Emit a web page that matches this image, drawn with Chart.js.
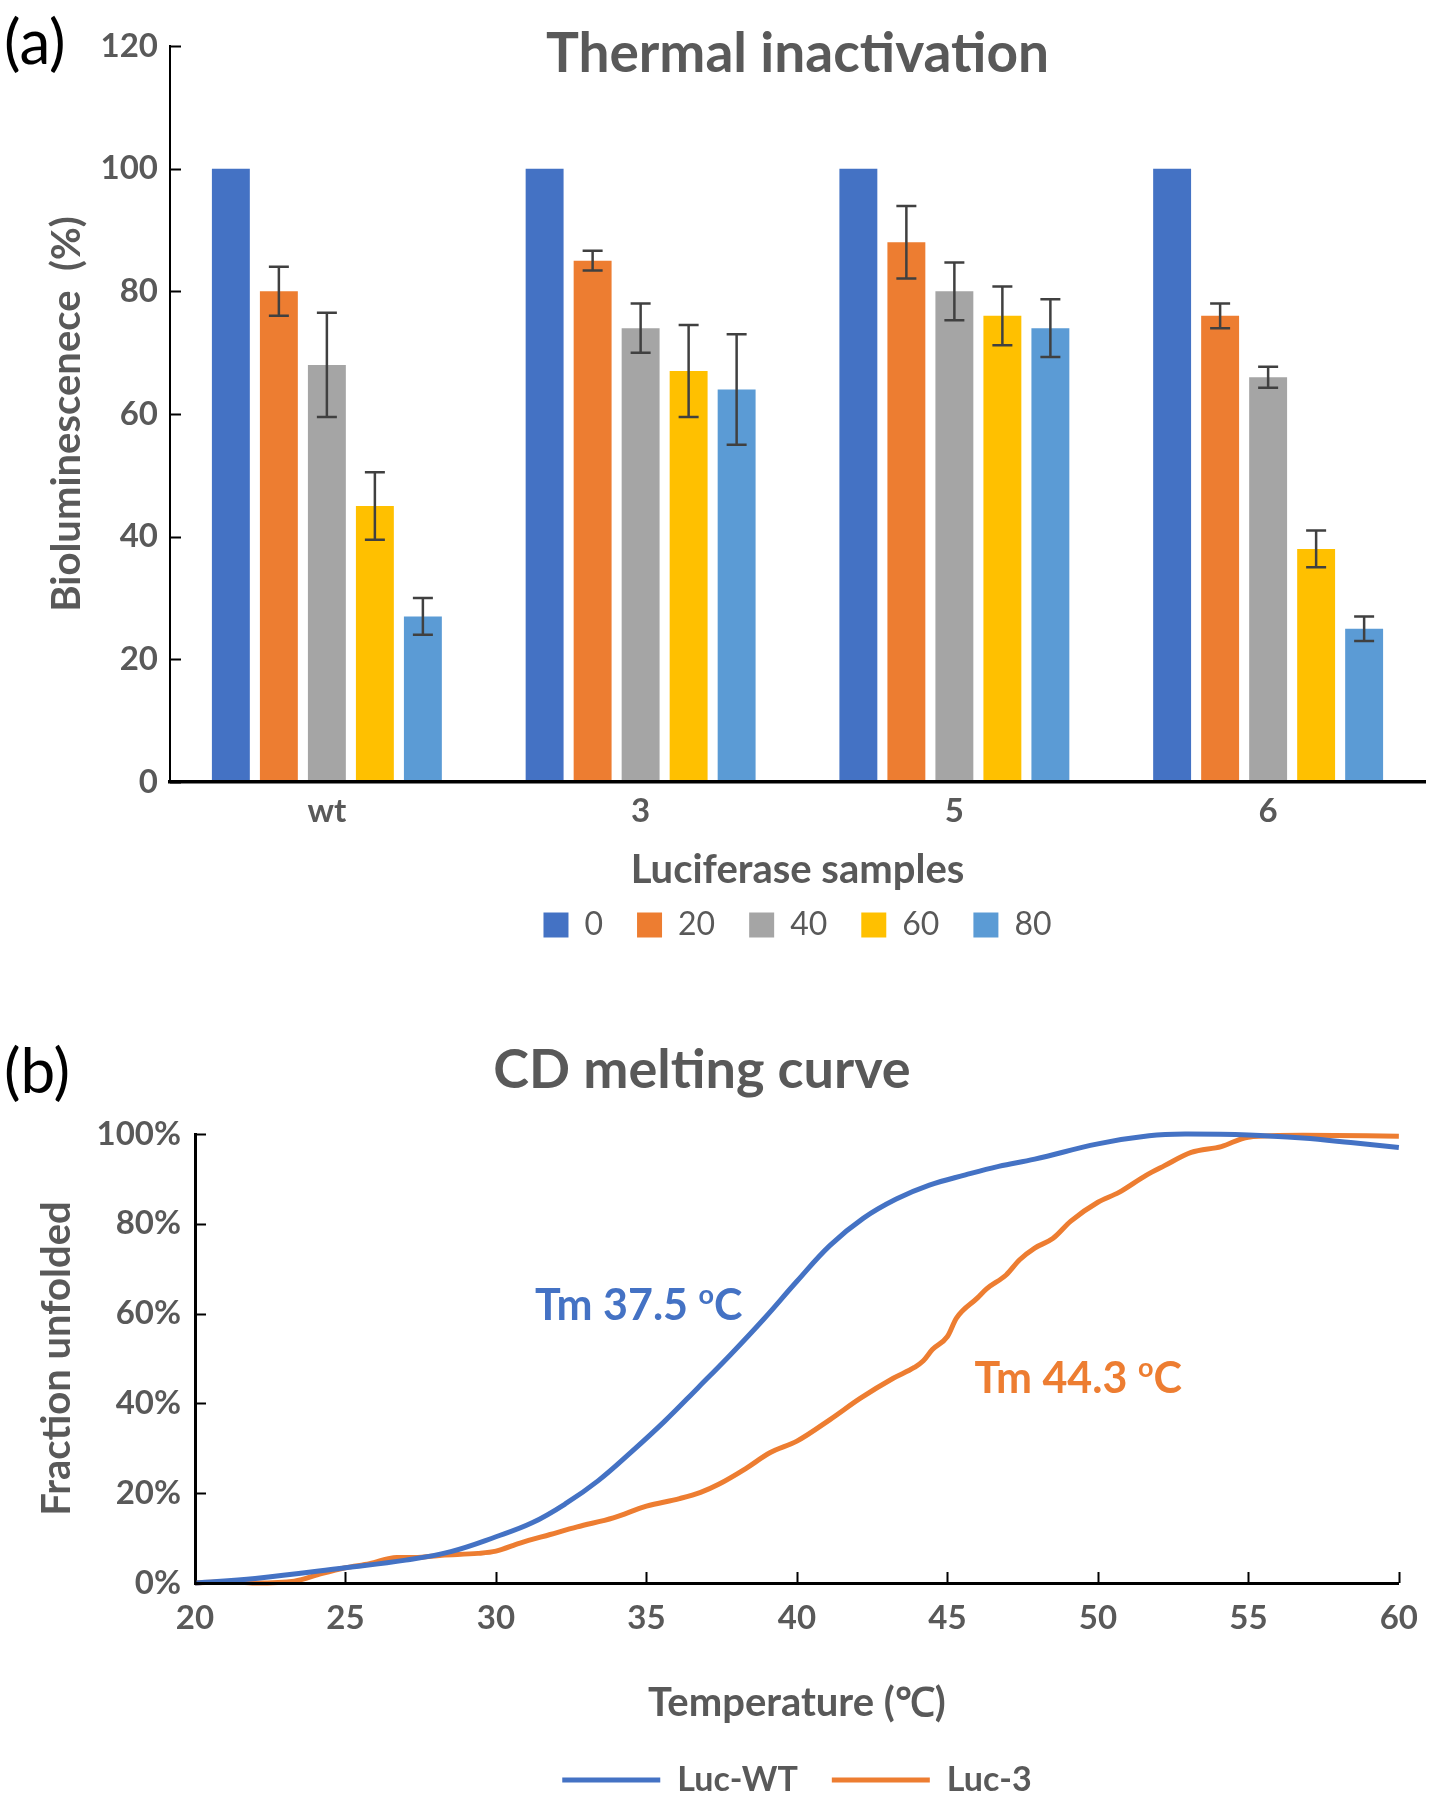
<!DOCTYPE html>
<html>
<head>
<meta charset="utf-8">
<script src="https://cdn.jsdelivr.net/npm/chart.js@4.4.0/dist/chart.umd.min.js"></script>
<style>
  body { margin: 0; background: #fff; width: 1434px; height: 1800px; position: relative; overflow: hidden; font-family: Lato, sans-serif; }
  .panel_tag { position: absolute; left: 4px; font-size: 62px; line-height: 1; color: #000; }
  #chartA { position: absolute; left: 0; top: 0; }
  #chartB { position: absolute; left: 0; top: 1000px; }
</style>
</head>
<body>
<div class="panel_tag" style="top:9px">(a)</div>
<div class="panel_tag" style="top:1038px">(b)</div>
<canvas id="chartA" width="1434" height="960" style="width:1434px;height:960px"></canvas>
<canvas id="chartB" width="1434" height="807" style="width:1434px;height:807px"></canvas>
<script>
// (a) thermal inactivation
const samples = ['wt', '3', '5', '6'];
const heatLabels = ['0', '20', '40', '60', '80'];
const bio0 = [100, 100, 100, 100];
const bio20 = [80, 85, 88, 76];
const bio40 = [68, 74, 80, 66];
const bio60 = [45, 67, 76, 38];
const bio80 = [27, 64, 74, 25];
const err0 = [0, 0, 0, 0];
const err20 = [4, 1.6, 5.9, 2];
const err40 = [8.5, 4, 4.7, 1.7];
const err60 = [5.5, 7.5, 4.8, 3];
const err80 = [3, 9, 4.7, 2];
const bioTicks = [0, 20, 40, 60, 80, 100, 120];

// (b) CD melting curve
const tempWT = [20, 22, 25, 27, 28.5, 30, 31.2, 32.3, 33.4, 34.5, 35.6, 36.7, 37.8, 38.9, 40, 41.1, 42.2, 43.3, 44.4, 45.6, 46.7, 47.9, 50, 51.7, 53, 55, 56.8, 58.4, 60];
const fracWT = [0, 1.0, 3.4, 5.1, 7.0, 10.3, 13.4, 17.6, 22.8, 29.2, 36, 43.4, 50.9, 58.8, 67.2, 75.2, 81.2, 85.5, 88.6, 90.9, 92.8, 94.4, 97.8, 99.6, 100, 99.8, 99.1, 98.1, 97];
const tempL3 = [20, 21, 22, 23.3, 24.2, 25, 25.8, 26.7, 27.3, 28.2, 29.4, 30, 30.8, 31.8, 32.7, 33.9, 35, 36.1, 36.8, 37.4, 38.3, 39.1, 40, 41.1, 42.1, 43.2, 43.9, 44.2, 44.5, 45, 45.3, 46, 46.3, 46.95, 47.4, 47.9, 48.5, 49.1, 50, 50.7, 51.6, 52.2, 53.1, 54.1, 55, 56.8, 60];
const fracL3 = [0, 0.3, 0, 0.4, 2.1, 3.4, 4.3, 5.7, 5.7, 6.2, 6.6, 7.1, 8.9, 10.8, 12.5, 14.5, 17.1, 18.8, 20.2, 22, 25.5, 29, 31.6, 36.4, 41.1, 45.6, 48, 49.5, 52, 54.9, 59, 63.5, 65.5, 68.6, 72, 74.6, 76.7, 80.6, 84.8, 87, 90.8, 92.9, 95.9, 97.2, 99.3, 99.7, 99.5];
const fracTicks = [0, 20, 40, 60, 80, 100];
const tempTicks = [20, 25, 30, 35, 40, 45, 50, 55, 60];

// Tm notes, in data units (left edge of text, middle height)
const tmText = ['Tm 37.5 ', 'Tm 44.3 '];
const tmTemp = [31.3, 45.9];
const tmFrac = [61.9, 45.7];

const grey = '#595959';
Chart.defaults.font.family = 'Lato';
Chart.defaults.color = grey;

// ticks pointing into the plot, like the excel original
const insideTicks = {
    id: 'insideTicks',
    afterDraw(chart, args, opts) {
        const ctx = chart.ctx;
        const area = chart.chartArea;
        ctx.save();
        ctx.strokeStyle = '#000';
        ctx.lineWidth = 2;
        if (opts.y) {
            const ys = chart.scales.y;
            ys.ticks.forEach(t => {
                const py = Math.round(ys.getPixelForValue(t.value)) + 0.5;
                ctx.beginPath();
                ctx.moveTo(area.left, py);
                ctx.lineTo(area.left + 11, py);
                ctx.stroke();
            });
        }
        if (opts.x) {
            const xs = chart.scales.x;
            xs.ticks.forEach(t => {
                const px = Math.round(xs.getPixelForValue(t.value)) + 0.5;
                ctx.beginPath();
                ctx.moveTo(px, area.bottom);
                ctx.lineTo(px, area.bottom - 11);
                ctx.stroke();
            });
        }
        ctx.restore();
    }
};

const errorBars = {
    id: 'errorBars',
    afterDatasetsDraw(chart) {
        const ctx = chart.ctx;
        const ys = chart.scales.y;
        ctx.save();
        ctx.strokeStyle = '#404040';
        ctx.lineWidth = 2.5;
        chart.data.datasets.forEach((ds, i) => {
            const meta = chart.getDatasetMeta(i);
            meta.data.forEach((bar, j) => {
                const err = ds.errors[j];
                if (!err) return;
                const top = ys.getPixelForValue(ds.data[j] + err);
                const bot = ys.getPixelForValue(ds.data[j] - err);
                ctx.beginPath();
                ctx.moveTo(bar.x, top);
                ctx.lineTo(bar.x, bot);
                ctx.moveTo(bar.x - 10, top);
                ctx.lineTo(bar.x + 10, top);
                ctx.moveTo(bar.x - 10, bot);
                ctx.lineTo(bar.x + 10, bot);
                ctx.stroke();
            });
        });
        ctx.restore();
    }
};

const tmNotes = {
    id: 'tmNotes',
    afterDatasetsDraw(chart) {
        const ctx = chart.ctx;
        const colors = ['#4472C4', '#ED7D31'];
        ctx.save();
        ctx.textBaseline = 'alphabetic';
        tmText.forEach((txt, i) => {
            let px = chart.scales.x.getPixelForValue(tmTemp[i]);
            const py = chart.scales.y.getPixelForValue(tmFrac[i]);
            ctx.fillStyle = colors[i];
            ctx.font = 'bold 43px Lato';
            ctx.fillText(txt, px, py + 15);
            px += ctx.measureText(txt).width;
            ctx.font = 'bold 27px Lato';
            ctx.fillText('o', px, py - 1);
            px += ctx.measureText('o').width;
            ctx.font = 'bold 43px Lato';
            ctx.fillText('C', px, py + 15);
        });
        ctx.restore();
    }
};

const barColors = ['#4472C4', '#ED7D31', '#A5A5A5', '#FFC000', '#5B9BD5'];
const bioSeries = [bio0, bio20, bio40, bio60, bio80];
const errSeries = [err0, err20, err40, err60, err80];

new Chart(document.getElementById('chartA'), {
    type: 'bar',
    data: {
        labels: samples,
        datasets: heatLabels.map((lbl, i) => ({
            label: lbl,
            data: bioSeries[i],
            errors: errSeries[i],
            backgroundColor: barColors[i],
            borderWidth: 0,
            categoryPercentage: 0.765,
            barPercentage: 0.79
        }))
    },
    options: {
        responsive: false,
        animation: false,
        layout: { padding: { top: 0, right: 9, bottom: 9, left: 0 } },
        scales: {
            x: {
                grid: { display: false, drawTicks: false },
                border: { display: true, color: '#000', width: 3.5, z: 1 },
                ticks: { padding: 10, color: grey, font: { size: 33, weight: 'bold' } },
                title: { display: true, text: 'Luciferase samples', color: grey, font: { size: 40, weight: 'bold' }, padding: { top: 0, bottom: -19 } },
                afterFit: s => { s.height = 93; }
            },
            y: {
                min: bioTicks[0],
                max: bioTicks[bioTicks.length - 1],
                afterBuildTicks: s => { s.ticks = bioTicks.map(v => ({ value: v })); },
                grid: { display: false, drawTicks: false },
                border: { display: true, color: '#000', width: 2 },
                ticks: { padding: 12, color: grey, font: { size: 33, weight: 'bold' } },
                title: { display: true, text: 'Bioluminescenece  (%)', color: grey, font: { size: 40, weight: 'bold' }, padding: { top: 43, bottom: 0 } },
                afterFit: s => { s.width = 170; }
            }
        },
        plugins: {
            title: {
                display: true,
                text: 'Thermal inactivation',
                fullSize: false,
                color: grey,
                font: { size: 55, weight: 'bold' },
                padding: { top: 21, bottom: -41 }
            },
            legend: {
                position: 'bottom',
                fullSize: false,
                labels: { boxWidth: 25, boxHeight: 25, padding: 34, color: grey, font: { size: 32 } }
            },
            tooltip: { enabled: false },
            insideTicks: { y: true }
        }
    },
    plugins: [errorBars, insideTicks]
});

const toPoints = (xs, ys) => xs.map((x, i) => ({ x: x, y: ys[i] }));

new Chart(document.getElementById('chartB'), {
    type: 'line',
    data: {
        datasets: [{
            label: 'Luc-WT',
            data: toPoints(tempWT, fracWT),
            borderColor: '#4472C4',
            backgroundColor: '#4472C4',
            borderWidth: 5,
            pointRadius: 0,
            pointBorderWidth: 5,
            tension: 0.4,
            clip: false
        }, {
            label: 'Luc-3',
            data: toPoints(tempL3, fracL3),
            borderColor: '#ED7D31',
            backgroundColor: '#ED7D31',
            borderWidth: 5,
            pointRadius: 0,
            pointBorderWidth: 5,
            cubicInterpolationMode: 'monotone',
            clip: false
        }]
    },
    options: {
        responsive: false,
        animation: false,
        layout: { padding: { top: 0, right: 30, bottom: 0, left: 0 } },
        scales: {
            x: {
                type: 'linear',
                min: tempTicks[0],
                max: tempTicks[tempTicks.length - 1],
                afterBuildTicks: s => { s.ticks = tempTicks.map(v => ({ value: v })); },
                grid: { display: false, drawTicks: false },
                border: { display: true, color: '#000', width: 3, z: 1 },
                ticks: { padding: 16, color: grey, font: { size: 33, weight: 'bold' } },
                title: { display: true, text: 'Temperature (℃)', color: grey, font: { size: 40, weight: 'bold' }, padding: { top: 0, bottom: 2 } },
                afterFit: s => { s.height = 146; }
            },
            y: {
                min: fracTicks[0],
                max: fracTicks[fracTicks.length - 1],
                afterBuildTicks: s => { s.ticks = fracTicks.map(v => ({ value: v })); },
                grid: { display: false, drawTicks: false },
                border: { display: true, color: '#000', width: 3 },
                ticks: { padding: 14, color: grey, font: { size: 33, weight: 'bold' }, callback: v => v + '%' },
                title: { display: true, text: 'Fraction unfolded', color: grey, font: { size: 40, weight: 'bold' }, padding: { top: 33, bottom: 0 } },
                afterFit: s => { s.width = 195; }
            }
        },
        plugins: {
            title: {
                display: true,
                text: 'CD melting curve',
                color: grey,
                font: { size: 54, weight: 'bold' },
                padding: { top: 38.6, bottom: 30.6 }
            },
            legend: {
                position: 'bottom',
                fullSize: false,
                labels: {
                    usePointStyle: true,
                    pointStyle: 'line',
                    pointStyleWidth: 98,
                    padding: 34,
                    color: grey,
                    font: { size: 34, weight: 'bold' }
                }
            },
            tooltip: { enabled: false },
            insideTicks: { x: true, y: true }
        }
    },
    plugins: [tmNotes, insideTicks]
});
</script>
</body>
</html>
